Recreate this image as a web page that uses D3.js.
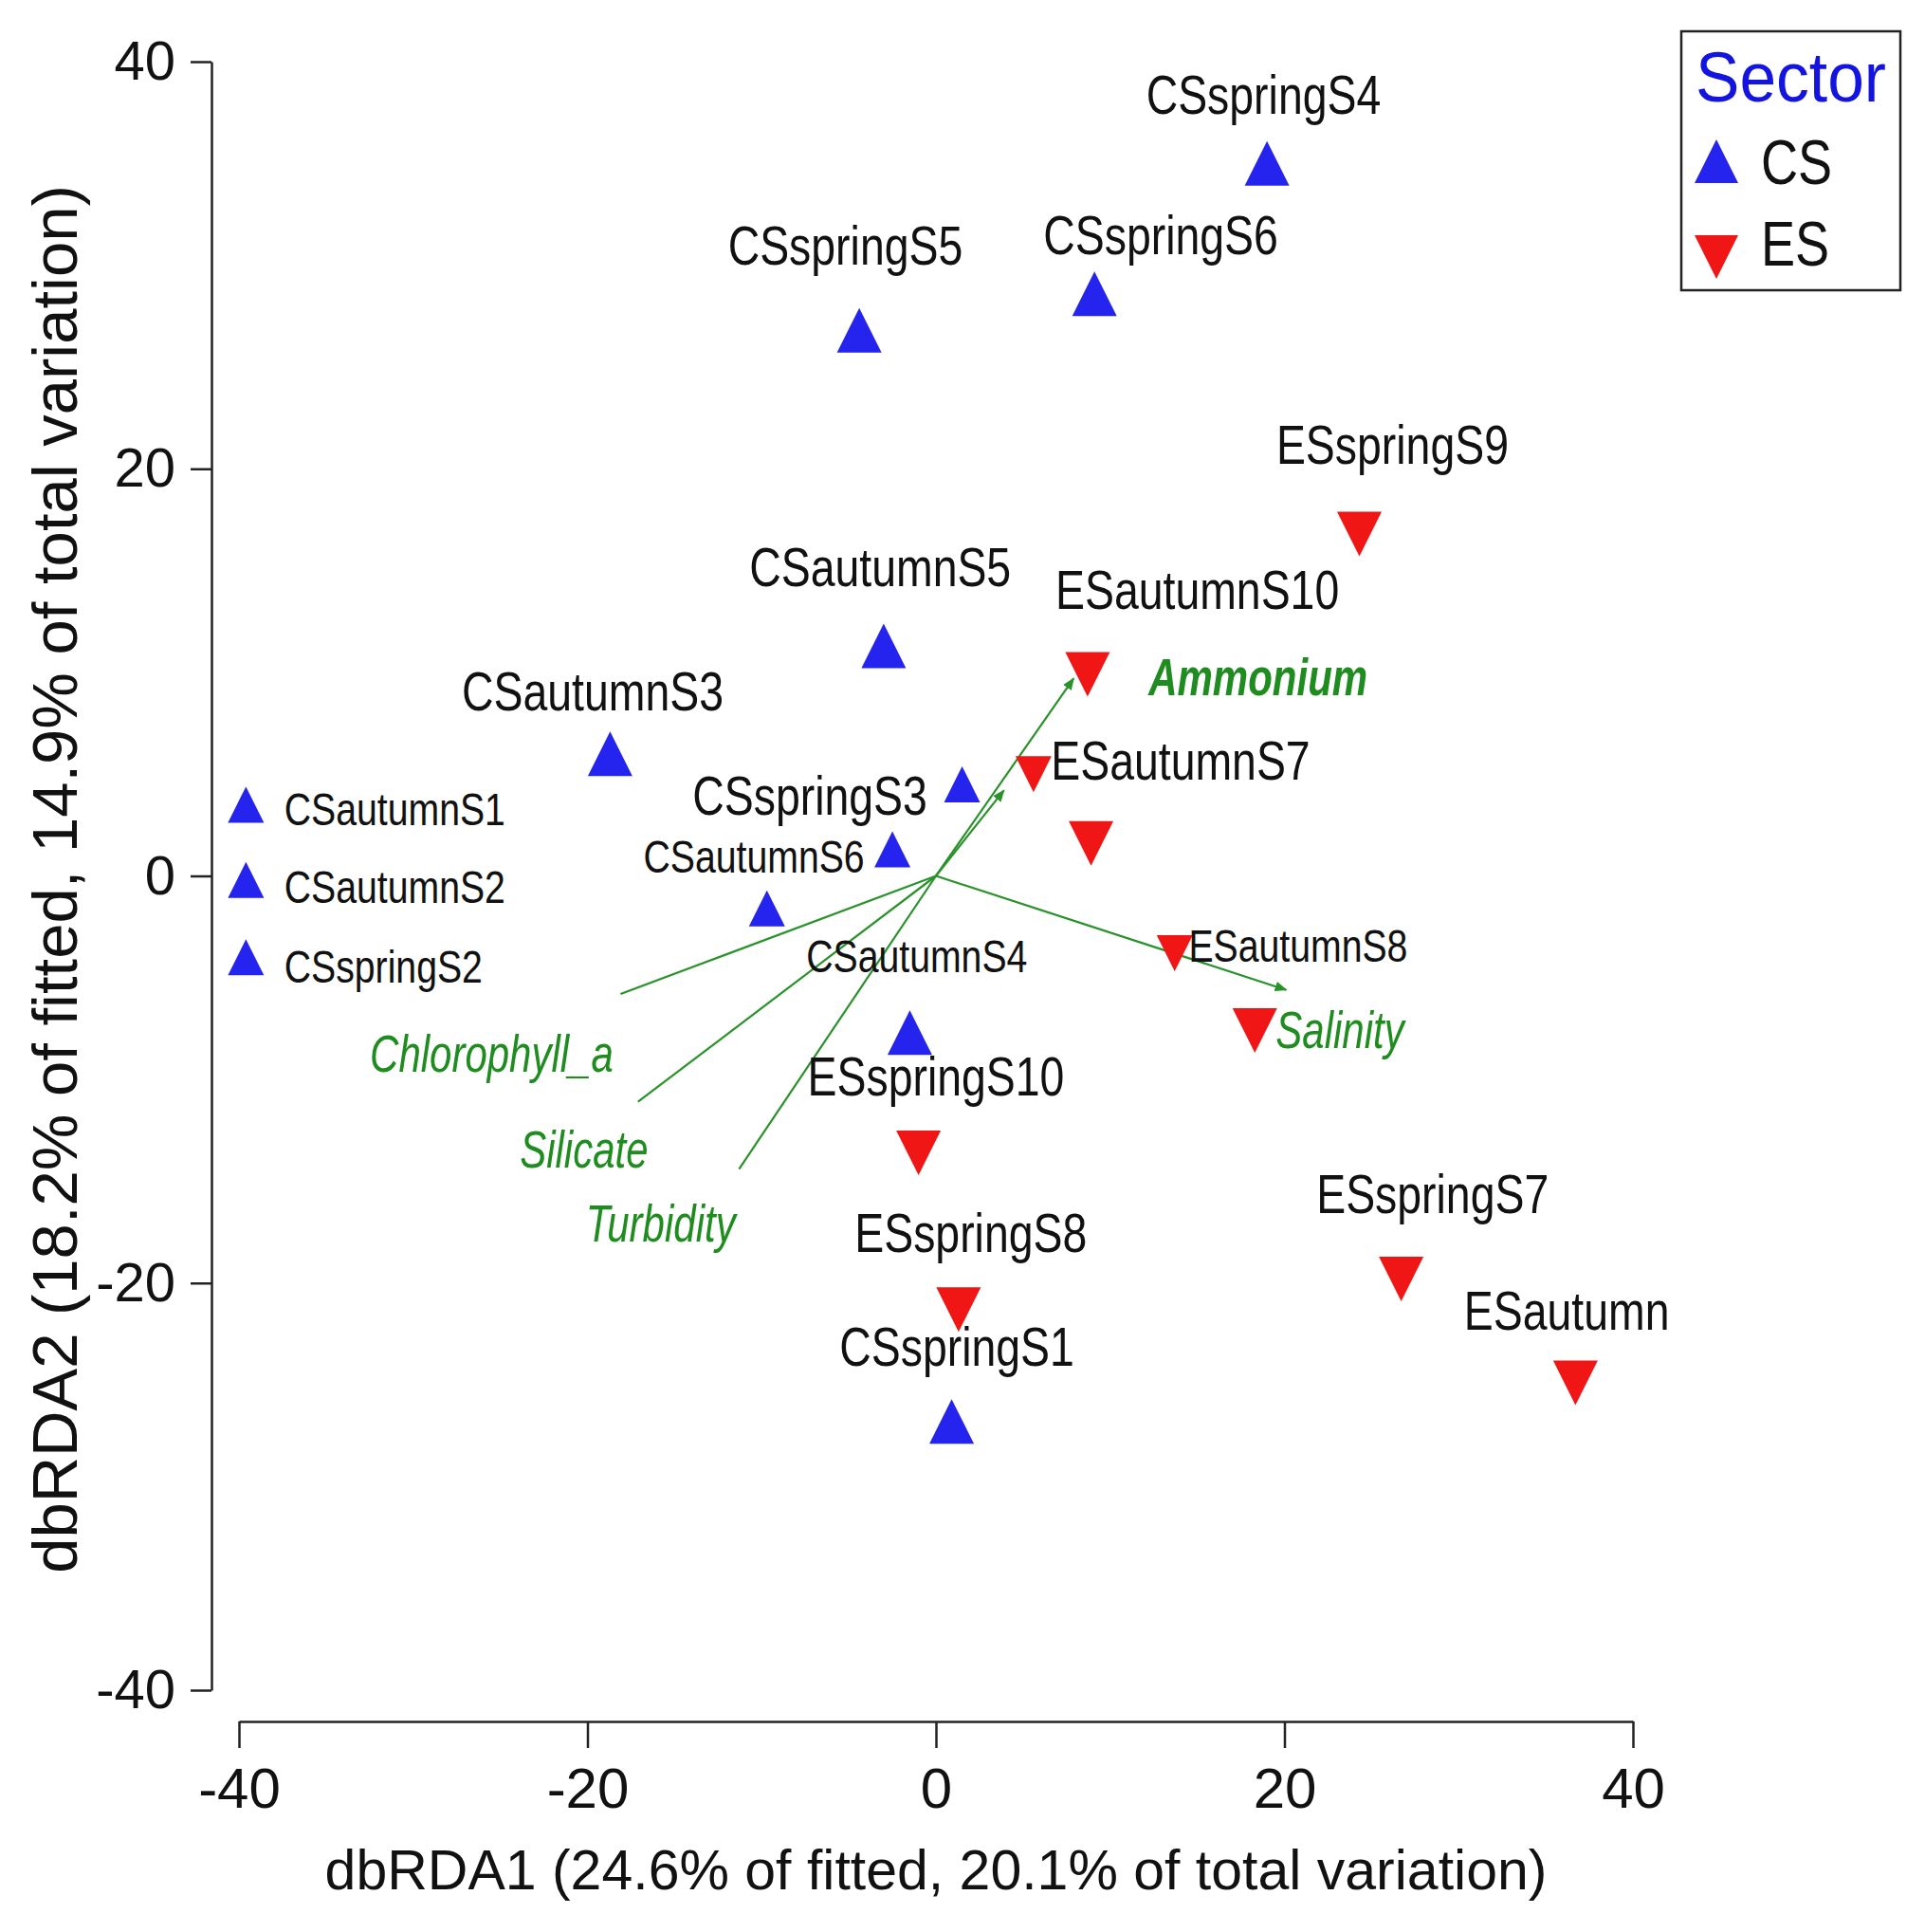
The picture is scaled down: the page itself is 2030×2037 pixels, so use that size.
<!doctype html>
<html>
  <head>
    <meta charset="utf-8">
    <title>dbRDA</title>
    <script src="https://cdn.jsdelivr.net/npm/d3@7"></script>
    <style>
      body { margin: 0; background: #fff; }
      text { font-family: 'Liberation Sans', Arial, sans-serif; }
    </style>
  </head>
  <body>
    <svg id="chart" width="2030" height="2037"></svg>

    <script>
      // samples (an empty name = point drawn without a label)
      var samples = ['CSspringS4', 'CSspringS6', 'CSspringS5', 'CSautumnS5', 'CSautumnS3', 'CSspringS3',
        'CSautumnS6', '', 'CSautumnS1', 'CSautumnS2', 'CSspringS2', 'CSautumnS4', 'CSspringS1',
        'ESspringS9', 'ESautumnS10', 'ESautumnS7', '', 'ESautumnS8', '', 'ESspringS10', 'ESspringS8',
        'ESspringS7', 'ESautumn']
      var sector = ['CS', 'CS', 'CS', 'CS', 'CS', 'CS', 'CS', 'CS', 'CS', 'CS', 'CS', 'CS', 'CS',
        'ES', 'ES', 'ES', 'ES', 'ES', 'ES', 'ES', 'ES', 'ES', 'ES']
      var dbRDA1 = [19.0, 9.1, -4.4, -3.0, -18.7, 1.5, -2.5, -9.7, -39.6, -39.6, -39.6, -1.5, 0.9,
        24.3, 8.7, 5.6, 8.9, 13.7, 18.3, -1.0, 1.3, 26.7, 36.7]
      var dbRDA2 = [35.0, 28.6, 26.8, 11.3, 6.0, 4.5, 1.3, -1.6, 3.5, -0.2, -4.0, -7.7, -26.8,
        16.8, 9.9, 5.0, 1.6, -3.8, -7.6, -13.6, -21.3, -19.8, -24.9]

      // where each sample label sits, in axis units
      var labelX = [18.8, 12.9, -5.2, -3.2, -19.7, -0.5, -4.1, null, -37.4, -37.4, -37.4, -1.1, 1.2,
        26.2, 15.0, 6.6, null, 14.5, null, 0.0, 2.0, 28.5, 36.2]
      var labelY = [38.4, 31.5, 31.0, 15.2, 9.1, 4.0, 1.0, null, 3.3, -0.5, -4.4, -3.9, -23.1,
        21.2, 14.1, 5.7, null, -3.4, null, -9.8, -17.5, -15.6, -21.3]
      var labelAnchor = ['middle', 'middle', 'middle', 'middle', 'middle', 'end', 'end', 'middle',
        'start', 'start', 'start', 'middle', 'middle', 'middle', 'middle', 'start', 'middle', 'start',
        'middle', 'middle', 'middle', 'middle', 'middle']

      // environmental vectors
      var envVars = ['Ammonium', '', 'Salinity', 'Chlorophyll_a', 'Silicate', 'Turbidity']
      var envX = [7.9, 3.9, 20.1, -18.1, -17.1, -11.3]
      var envY = [9.7, 4.2, -5.6, -5.8, -11.1, -14.4]
      var envArrow = [true, true, true, false, false, false]
      var envLabelX = [12.2, null, 19.5, -25.5, -20.2, -15.8]
      var envLabelY = [9.8, null, -7.5, -8.7, -13.4, -17.0]
      var envLabelAnchor = ['start', 'start', 'start', 'middle', 'middle', 'middle']

      var xTicks = [-40, -20, 0, 20, 40]
      var yTicks = [-40, -20, 0, 20, 40]
      var sectors = ['CS', 'ES']

      var smallMarks = [5, 6, 7, 8, 9, 10, 15, 17]
      var smallLabels = [6, 8, 9, 10, 11, 17]

      var color = { CS: '#2424ee', ES: '#f01616' }
      var green = '#2a922a'
      var squeeze = 0.8

      var triUp = {
        draw: function (ctx, size) {
          var h = Math.sqrt(size) / 2
          ctx.moveTo(0, -h)
          ctx.lineTo(h, h)
          ctx.lineTo(-h, h)
          ctx.closePath()
        }
      }
      var triDown = {
        draw: function (ctx, size) {
          var h = Math.sqrt(size) / 2
          ctx.moveTo(0, h)
          ctx.lineTo(h, -h)
          ctx.lineTo(-h, -h)
          ctx.closePath()
        }
      }
      var shape = { CS: triUp, ES: triDown }

      var svg = d3.select('#chart')

      var x = d3.scaleLinear().domain([-40, 40]).range([252, 1722])
      var y = d3.scaleLinear().domain([-40, 40]).range([1782, 65])
      var plain = function (d) { return String(d) }

      // axes
      var yAxis = svg.append('g')
        .attr('transform', 'translate(223,0)')
        .call(d3.axisLeft(y).tickValues(yTicks).tickFormat(plain).tickSize(22).tickSizeOuter(0).tickPadding(16))
      var xAxis = svg.append('g')
        .attr('transform', 'translate(0,1815)')
        .call(d3.axisBottom(x).tickValues(xTicks).tickFormat(plain).tickSize(28).tickSizeOuter(0).tickPadding(20))

      ;[yAxis, xAxis].forEach(function (g) {
        g.attr('font-family', null)
        g.select('.domain').attr('stroke', '#222').attr('stroke-width', 2.5)
        g.selectAll('.tick line').attr('stroke', '#222').attr('stroke-width', 2.5)
        g.selectAll('.tick text').attr('fill', '#111')
      })
      yAxis.attr('font-size', 58)
      xAxis.attr('font-size', 60)

      svg.append('text')
        .attr('x', 987)
        .attr('y', 1992)
        .attr('text-anchor', 'middle')
        .attr('font-size', 59)
        .attr('fill', '#111')
        .text('dbRDA1 (24.6% of fitted, 20.1% of total variation)')

      svg.append('text')
        .attr('transform', 'translate(81,927) rotate(-90)')
        .attr('text-anchor', 'middle')
        .attr('font-size', 67)
        .attr('fill', '#111')
        .text('dbRDA2 (18.2% of fitted, 14.9% of total variation)')

      // vectors
      svg.append('defs')
        .append('marker')
        .attr('id', 'arrowhead')
        .attr('viewBox', '0 -5 10 10')
        .attr('refX', 9)
        .attr('refY', 0)
        .attr('markerUnits', 'userSpaceOnUse')
        .attr('markerWidth', 13)
        .attr('markerHeight', 13)
        .attr('orient', 'auto')
        .append('path')
        .attr('d', 'M0,-4L10,0L0,4')
        .attr('fill', green)

      var vec = envVars.map(function (v, i) { return i })

      svg.append('g')
        .selectAll('line')
        .data(vec)
        .enter()
        .append('line')
        .attr('x1', x(0))
        .attr('y1', y(0))
        .attr('x2', function (i) { return x(envX[i]) })
        .attr('y2', function (i) { return y(envY[i]) })
        .attr('stroke', green)
        .attr('stroke-width', 2.2)
        .attr('marker-end', function (i) { return envArrow[i] ? 'url(#arrowhead)' : null })

      // points
      var idx = samples.map(function (s, i) { return i })

      svg.append('g')
        .selectAll('path')
        .data(idx)
        .enter()
        .append('path')
        .attr('transform', function (i) { return 'translate(' + x(dbRDA1[i]) + ',' + y(dbRDA2[i]) + ')' })
        .attr('d', function (i) {
          var w = smallMarks.indexOf(i) >= 0 ? 38 : 47
          return d3.symbol().type(shape[sector[i]]).size(w * w)()
        })
        .attr('fill', function (i) { return color[sector[i]] })

      // sample labels
      svg.append('g')
        .selectAll('text')
        .data(idx.filter(function (i) { return samples[i] !== '' }))
        .enter()
        .append('text')
        .attr('transform', function (i) {
          var fs = smallLabels.indexOf(i) >= 0 ? 49 : 58
          return 'translate(' + x(labelX[i]) + ',' + (y(labelY[i]) + 0.36 * fs) + ') scale(' + squeeze + ',1)'
        })
        .attr('font-size', function (i) { return smallLabels.indexOf(i) >= 0 ? 49 : 58 })
        .attr('text-anchor', function (i) { return labelAnchor[i] })
        .attr('fill', '#111')
        .text(function (i) { return samples[i] })

      // vector labels
      svg.append('g')
        .selectAll('text')
        .data(vec.filter(function (i) { return envVars[i] !== '' }))
        .enter()
        .append('text')
        .attr('transform', function (i) {
          return 'translate(' + x(envLabelX[i]) + ',' + (y(envLabelY[i]) + 0.36 * 56) + ') scale(0.75,1)'
        })
        .attr('font-size', 56)
        .attr('font-style', 'italic')
        .attr('font-weight', function (i) { return i === 0 ? 'bold' : null })
        .attr('text-anchor', function (i) { return envLabelAnchor[i] })
        .attr('fill', '#1e8c1e')
        .text(function (i) { return envVars[i] })

      // legend
      var legend = svg.append('g')
      legend.append('rect')
        .attr('x', 1773)
        .attr('y', 33)
        .attr('width', 231)
        .attr('height', 273)
        .attr('fill', '#fff')
        .attr('stroke', '#222')
        .attr('stroke-width', 2.5)
      legend.append('text')
        .attr('transform', 'translate(1788,107) scale(0.94,1)')
        .attr('font-size', 74)
        .attr('fill', '#1414e0')
        .text('Sector')

      var items = legend.selectAll('.item')
        .data(sectors)
        .enter()
        .append('g')
      items.append('path')
        .attr('transform', function (d, i) { return 'translate(1810,' + (170 + i * 101) + ')' })
        .attr('d', function (d) { return d3.symbol().type(shape[d]).size(46 * 46)() })
        .attr('fill', function (d) { return color[d] })
      items.append('text')
        .attr('transform', function (d, i) { return 'translate(1857,' + (194 + i * 86) + ') scale(0.82,1)' })
        .attr('font-size', 66)
        .attr('fill', '#111')
        .text(function (d) { return d })
    </script>
  </body>
</html>
